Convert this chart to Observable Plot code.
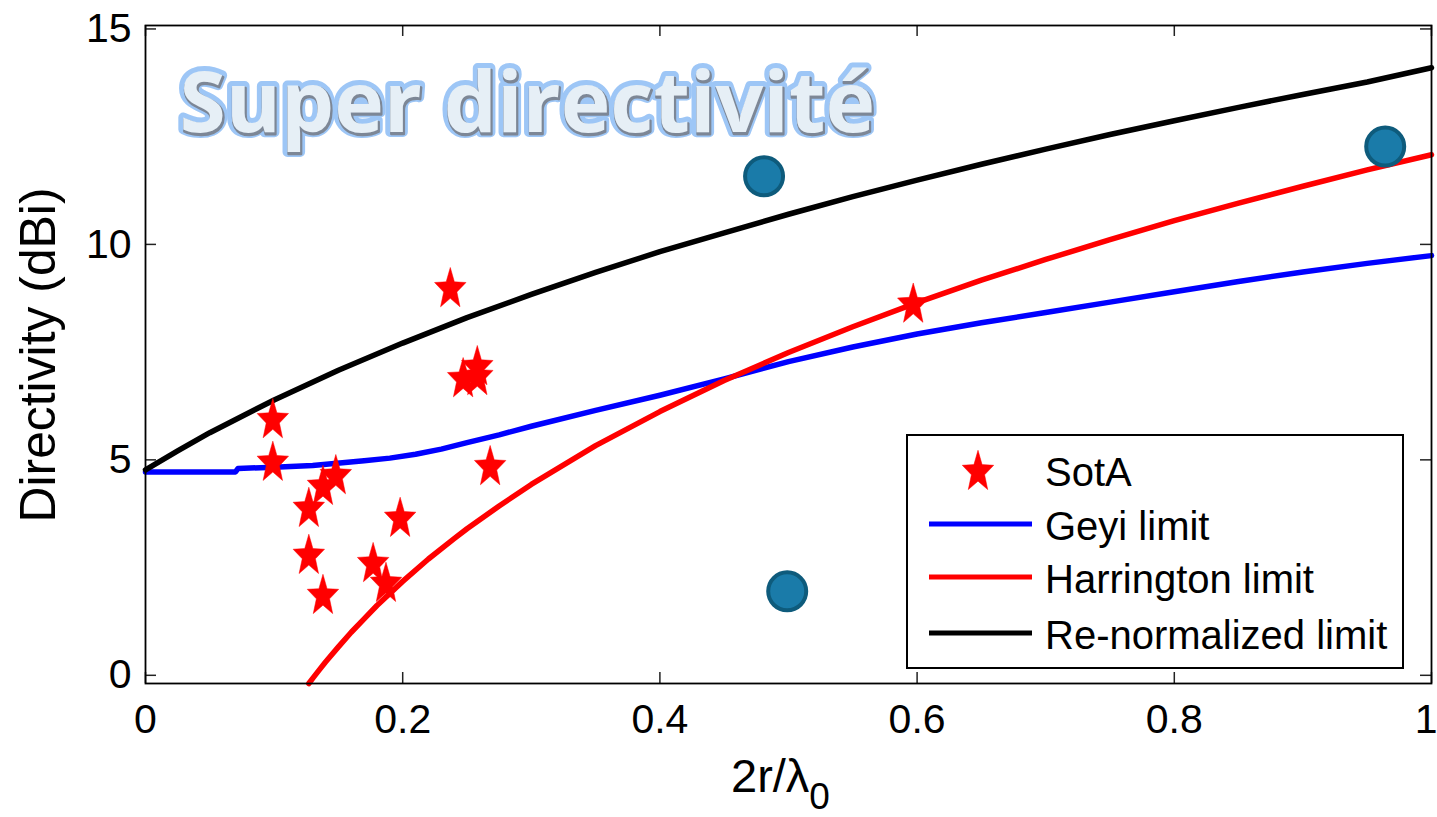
<!DOCTYPE html>
<html><head><meta charset="utf-8">
<script src="https://cdn.jsdelivr.net/npm/d3@7"></script>
<script src="https://cdn.jsdelivr.net/npm/@observablehq/plot@0.6"></script>
<style>
html,body{margin:0;padding:0;background:#fff;}
#chart{position:relative;width:1437px;height:817px;}
</style></head><body><div id="chart"></div>
<script>
// ---- data ----
const xTicks = [0, 0.2, 0.4, 0.6, 0.8, 1];
const yTicks = [0, 5, 10, 15];

const geyiX = [0, 0.07, 0.072, 0.1, 0.13, 0.17, 0.19, 0.21, 0.23, 0.25, 0.275, 0.3, 0.35, 0.4, 0.45, 0.5, 0.55, 0.6, 0.65, 0.7, 0.75, 0.8, 0.85, 0.9, 0.95, 1];
const geyiY = [4.72, 4.72, 4.8, 4.83, 4.87, 4.98, 5.04, 5.13, 5.25, 5.40, 5.58, 5.78, 6.15, 6.5, 6.88, 7.28, 7.62, 7.92, 8.18, 8.42, 8.66, 8.9, 9.14, 9.36, 9.56, 9.74];

const harrX = [0.127, 0.13, 0.135, 0.14, 0.15, 0.16, 0.17, 0.18, 0.19, 0.2, 0.22, 0.24, 0.25, 0.275, 0.3, 0.35, 0.4, 0.45, 0.5, 0.55, 0.6, 0.65, 0.7, 0.75, 0.8, 0.85, 0.9, 0.95, 1];
const harrY = [-0.19, -0.07, 0.12, 0.31, 0.66, 1.0, 1.31, 1.62, 1.90, 2.18, 2.70, 3.17, 3.40, 3.93, 4.43, 5.33, 6.12, 6.84, 7.49, 8.09, 8.65, 9.17, 9.65, 10.11, 10.55, 10.96, 11.35, 11.73, 12.08];

const renX = [0, 0.025, 0.05, 0.1, 0.15, 0.2, 0.25, 0.3, 0.35, 0.4, 0.45, 0.5, 0.55, 0.6, 0.65, 0.7, 0.75, 0.8, 0.85, 0.9, 0.95, 1];
const renY = [4.77, 5.21, 5.63, 6.39, 7.08, 7.71, 8.30, 8.84, 9.35, 9.83, 10.27, 10.70, 11.11, 11.49, 11.86, 12.21, 12.55, 12.87, 13.18, 13.48, 13.77, 14.10];

const sotaX = [0.237, 0.258, 0.247, 0.258, 0.268, 0.099, 0.099, 0.148, 0.138, 0.127, 0.198, 0.127, 0.177, 0.187, 0.138, 0.597];
const sotaY = [8.96, 7.15, 6.87, 6.92, 4.83, 5.92, 4.93, 4.62, 4.37, 3.86, 3.63, 2.77, 2.58, 2.12, 1.84, 8.60];

const circX = [0.481, 0.499, 0.964];
const circY = [11.58, 1.95, 12.27];

const legendNames = ["SotA", "Geyi limit", "Harrington limit", "Re-normalized limit"];
const legendColors = ["#ff0000", "#0000ff", "#ff0000", "#000000"];
const legendKinds = ["star", "line", "line", "line"];

const titleText = "Super directivité";
const xLabelMain = "2r/λ";
const xLabelSub = "0";
const yLabel = "Directivity (dBi)";

// ---- tables ----
const toRows = (xs, ys) => xs.map((x, i) => ({x, y: ys[i]}));
const geyi = toRows(geyiX, geyiY);
const harr = toRows(harrX, harrY);
const ren = toRows(renX, renY);
const sota = toRows(sotaX, sotaY);
const circ = toRows(circX, circY);

// MATLAB-like pentagram (narrow)
const starSymbol = {
  draw(context, size) {
    const R = Math.sqrt(size * 0.8908130915);
    const r = R * 0.42;
    const sx = 0.76;
    for (let i = 0; i < 10; i++) {
      const a = -Math.PI / 2 + i * Math.PI / 5;
      const rad = i % 2 ? r : R;
      const px = Math.cos(a) * rad * sx, py = Math.sin(a) * rad;
      if (i) context.lineTo(px, py); else context.moveTo(px, py);
    }
    context.closePath();
  }
};

const font = "'Liberation Sans', Arial, Helvetica, sans-serif";
const titleFont = "'Open Sans', Lato, sans-serif";
const tickColor = "#222";

const W = 1437, H = 817, ML = 145, MR = 6, MT = 25, MB = 134;
const frameW = W - ML - MR, frameH = H - MT - MB, tickLen = 11;

const titleCommon = {frameAnchor: "top-left", text: d => d, fontSize: 84, fontWeight: "bold", fontFamily: titleFont, lineAnchor: "top", textAnchor: "start", paintOrder: "stroke"};

const plot = Plot.plot({
  width: W, height: H,
  marginLeft: ML, marginRight: MR, marginTop: MT, marginBottom: MB,
  x: {domain: [0, 1]},
  y: {domain: [-0.19, 15.08]},
  style: {fontFamily: font, background: "white", overflow: "visible"},
  marks: [
    Plot.text([titleText], {...titleCommon, dx: 34, dy: 47, fill: "#93c0f6", stroke: "#93c0f6", strokeWidth: 10, strokeLinejoin: "round", opacity: 0.9}),
    Plot.text([titleText], {...titleCommon, dx: 35, dy: 48.5, fill: "#7d8796", stroke: "#7d8796", strokeWidth: 2.5, strokeLinejoin: "round"}),
    Plot.text([titleText], {...titleCommon, dx: 34, dy: 47, fill: "#e6eff6"}),
    Plot.line(geyi, {x: "x", y: "y", stroke: "#0000ff", strokeWidth: 5.5}),
    Plot.line(harr, {x: "x", y: "y", stroke: "#ff0000", strokeWidth: 5.5}),
    Plot.line(ren, {x: "x", y: "y", stroke: "#000000", strokeWidth: 5.5}),
    Plot.dot(sota, {x: "x", y: "y", symbol: starSymbol, r: 13, fill: "#ff0000", stroke: "#ff0000", strokeWidth: 0.5}),
    Plot.dot(circ, {x: "x", y: "y", r: 19, fill: "#1a7ba9", stroke: "#0e5b7c", strokeWidth: 4}),
    Plot.axisX({anchor: "bottom", ticks: xTicks, tickSize: 0, tickPadding: 20, fontSize: 41, label: null, tickFormat: d => String(d)}),
    Plot.axisY({anchor: "left", ticks: yTicks, tickSize: 0, tickPadding: 14, fontSize: 41, label: null, tickFormat: d => String(d)}),
    // inward MATLAB-style ticks on all four sides
    Plot.tickX(xTicks, {x: d => d, insetTop: frameH - tickLen, stroke: tickColor, strokeWidth: 1.5}),
    Plot.tickX(xTicks, {x: d => d, insetBottom: frameH - tickLen, stroke: tickColor, strokeWidth: 1.5}),
    Plot.tickY(yTicks, {y: d => d, insetRight: frameW - tickLen, stroke: tickColor, strokeWidth: 1.5}),
    Plot.tickY(yTicks, {y: d => d, insetLeft: frameW - tickLen, stroke: tickColor, strokeWidth: 1.5}),
    Plot.frame({stroke: "#000", strokeWidth: 1.8})
  ]
});

document.getElementById("chart").appendChild(plot);

const svg = d3.select(plot);

// keep the last x tick label inside the picture
svg.selectAll("g[aria-label='x-axis tick label'] text").each(function() {
  if (this.textContent === "1") d3.select(this).attr("text-anchor", "end").attr("dx", 6);
});

// y label
svg.append("text")
  .attr("transform", "translate(55,355) rotate(-90)")
  .attr("text-anchor", "middle")
  .attr("font-family", font)
  .attr("font-size", 50)
  .attr("textLength", 335)
  .attr("lengthAdjust", "spacingAndGlyphs")
  .attr("fill", "#000")
  .text(yLabel);

// x label with subscript
const xl = svg.append("text")
  .attr("x", 731).attr("y", 792)
  .attr("text-anchor", "start")
  .attr("font-family", font)
  .attr("font-size", 47)
  .attr("fill", "#000");
xl.append("tspan").text(xLabelMain);
xl.append("tspan").attr("font-size", 37).attr("dy", 17).text(xLabelSub);

// legend
const lg = svg.append("g").attr("font-family", font).attr("text-anchor", "start");
lg.append("rect").attr("x", 907).attr("y", 435).attr("width", 496).attr("height", 233)
  .attr("fill", "white").attr("stroke", "#000").attr("stroke-width", 2);
const rowY = [470, 524, 577, 633];
const starPath = d3.symbol(starSymbol, Math.PI * 13 * 13)();
legendNames.forEach((name, i) => {
  const y = rowY[i];
  if (legendKinds[i] === "star") {
    lg.append("path").attr("d", starPath).attr("transform", `translate(978,${y + 2})`)
      .attr("fill", legendColors[i]).attr("stroke", legendColors[i]).attr("stroke-width", 0.5);
  } else {
    lg.append("line").attr("x1", 929).attr("x2", 1032).attr("y1", y).attr("y2", y)
      .attr("stroke", legendColors[i]).attr("stroke-width", 5);
  }
  lg.append("text").attr("x", 1045).attr("y", y + 16).attr("font-size", 40)
    .attr("fill", "#000").text(name);
});
</script>
</body></html>
